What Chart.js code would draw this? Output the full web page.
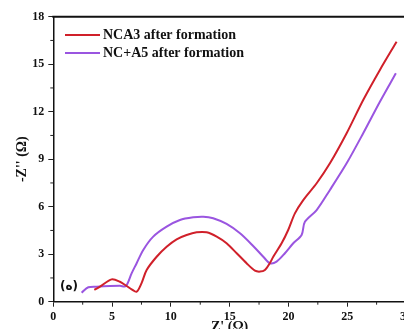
<!DOCTYPE html>
<html>
<head>
<meta charset="utf-8">
<script src="https://cdn.jsdelivr.net/npm/chart.js@4.4.1/dist/chart.umd.min.js"></script>
<style>
html,body{margin:0;padding:0;background:#fff;overflow:hidden;width:404px;height:329px;}
canvas{display:block;}
</style>
</head>
<body>
<canvas id="c" width="420" height="345"></canvas>
<script>
// Series labels
const seriesNames = ["NCA3 after formation", "NC+A5 after formation"];
// NCA3: Z' (real) and -Z'' (imag)
const nca3Re = [3.49,3.97,4.96,5.67,6.24,6.66,7.09,7.5,7.94,8.79,9.64,10.49,11.34,12.19,13.04,13.9,14.74,15.6,16.44,17.15,17.58,18.0,18.43,18.71,19.42,19.98,20.55,21.26,22.4,23.53,24.95,26.36,27.78,29.2];
const nca3Im = [0.74,0.95,1.41,1.26,0.99,0.78,0.63,1.16,2.0,2.84,3.47,3.94,4.21,4.38,4.38,4.11,3.69,3.06,2.43,1.96,1.9,2.0,2.45,2.84,3.69,4.53,5.58,6.42,7.48,8.74,10.64,12.74,14.64,16.42];
// NC+A5
const nca5Re = [2.41,2.98,3.69,4.82,5.67,6.18,6.66,7.09,7.65,8.5,9.64,10.77,11.9,12.76,13.6,14.74,15.88,17.0,17.86,18.43,18.99,19.7,20.41,21.12,21.4,22.4,23.53,24.95,26.36,27.78,29.14];
const nca5Im = [0.57,0.91,0.95,0.99,1.0,0.99,1.79,2.43,3.27,4.11,4.74,5.16,5.33,5.37,5.27,4.91,4.32,3.52,2.84,2.43,2.53,3.06,3.69,4.21,5.05,5.79,7.06,8.74,10.64,12.63,14.43];
const seriesColors = ["#d0202a", "#9a55e0"];
const xTicks = [0,5,10,15,20,25,30];
const yTicks = [0,3,6,9,12,15,18];
const panelLabel = "(ه)";

const toPts = (xs, ys) => xs.map((x, i) => ({x: x, y: ys[i]}));
const FONT = "'Liberation Serif','Times New Roman',serif";

const extras = {
  id: 'extras',
  afterDraw(chart) {
    const ctx = chart.ctx;
    const ca = chart.chartArea;
    const xs = chart.scales.x, ys = chart.scales.y;
    ctx.save();
    // top frame line
    ctx.strokeStyle = '#111';
    ctx.lineWidth = 2;
    ctx.beginPath();
    ctx.moveTo(ca.left - 1, ca.top);
    ctx.lineTo(ca.right + 10, ca.top);
    ctx.stroke();
    // minor ticks
    ctx.lineWidth = 1;
    ctx.strokeStyle = '#222';
    for (let i = 0; i < xTicks.length - 1; i++) {
      const px = xs.getPixelForValue((xTicks[i] + xTicks[i + 1]) / 2);
      ctx.beginPath();
      ctx.moveTo(px, ca.bottom);
      ctx.lineTo(px, ca.bottom + 3);
      ctx.stroke();
    }
    for (let i = 0; i < yTicks.length - 1; i++) {
      const py = ys.getPixelForValue((yTicks[i] + yTicks[i + 1]) / 2);
      ctx.beginPath();
      ctx.moveTo(ca.left, py);
      ctx.lineTo(ca.left - 3, py);
      ctx.stroke();
    }
    // legend
    ctx.font = "bold 14px " + FONT;
    ctx.textBaseline = 'middle';
    ctx.fillStyle = '#111';
    chart.data.datasets.forEach((ds, i) => {
      const y = 35 + i * 18;
      ctx.strokeStyle = ds.borderColor;
      ctx.lineWidth = 2;
      ctx.beginPath();
      ctx.moveTo(65, y);
      ctx.lineTo(100, y);
      ctx.stroke();
      ctx.fillText(ds.label, 103, y);
    });
    // panel label
    ctx.font = "bold 12px 'DejaVu Sans', " + FONT;
    ctx.fillText(panelLabel, 60, 287);
    ctx.restore();
  }
};

new Chart(document.getElementById('c'), {
  type: 'scatter',
  data: {
    datasets: [
      {label: seriesNames[0], data: toPts(nca3Re, nca3Im), borderColor: seriesColors[0], backgroundColor: seriesColors[0], showLine: true, pointRadius: 0, borderWidth: 2, tension: 0.3},
      {label: seriesNames[1], data: toPts(nca5Re, nca5Im), borderColor: seriesColors[1], backgroundColor: seriesColors[1], showLine: true, pointRadius: 0, borderWidth: 2, tension: 0.3}
    ]
  },
  options: {
    responsive: false,
    devicePixelRatio: 1,
    animation: false,
    layout: {padding: {left: 0, right: 14, top: 16.7, bottom: 0}},
    plugins: {legend: {display: false}, tooltip: {enabled: false}},
    scales: {
      x: {
        type: 'linear', min: 0, max: 30,
        afterBuildTicks: s => { s.ticks = xTicks.map(v => ({value: v})); },
        afterFit: s => { s.height = 43.3; },
        grid: {drawOnChartArea: false, tickLength: 5, color: '#222', tickWidth: 1},
        border: {color: '#111', width: 1.5},
        ticks: {color: '#111', font: {family: FONT, size: 12, weight: 'bold'}, padding: 3, maxRotation: 0, autoSkip: false},
        title: {display: true, text: "Z' (Ω)", color: '#111', font: {family: FONT, size: 14, weight: 'bold'}, padding: {top: 0, bottom: 9}}
      },
      y: {
        type: 'linear', min: 0, max: 18,
        afterBuildTicks: s => { s.ticks = yTicks.map(v => ({value: v})); },
        afterFit: s => { s.width = 53.3; },
        grid: {drawOnChartArea: false, tickLength: 5, color: '#222', tickWidth: 1},
        border: {color: '#111', width: 1.5},
        ticks: {color: '#111', font: {family: FONT, size: 12, weight: 'bold'}, padding: 4},
        title: {display: true, text: "-Z'' (Ω)", color: '#111', font: {family: FONT, size: 14, weight: 'bold'}, padding: {top: 14, bottom: 0}}
      }
    }
  },
  plugins: [extras]
});
</script>
</body>
</html>
